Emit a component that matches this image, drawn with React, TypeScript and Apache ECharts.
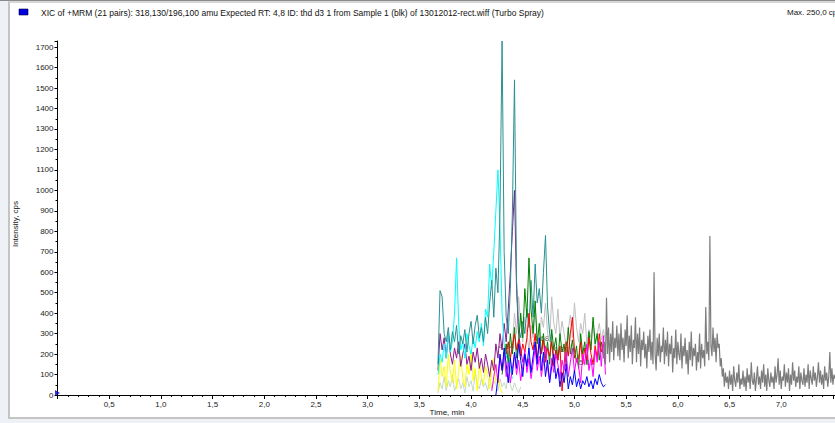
import React, { useEffect, useRef } from 'react';
import * as echarts from 'echarts';

const FONT = '"Liberation Sans", Arial, sans-serif';

const titleText =
  'XIC of +MRM (21 pairs): 318,130/196,100 amu Expected RT: 4,8 ID: thd d3 1 from Sample 1 (blk) of 13012012-rect.wiff (Turbo Spray)';
const maxText = 'Max. 250,0 cps';
const xAxisTitle = 'Time, min';
const yAxisTitle = 'Intensity, cps';

const X_MIN = 0;
const X_MAX = 7.52;
const X_INTERVAL = 0.5;
const Y_MIN = 0;
const Y_MAX = 1730;
const Y_INTERVAL = 100;

const STEP = 0.02;
const GRAY_STEP = 0.01;

const paleStart = 3.68;
const paleValues = [10, 60, 30, 90, 20, 70, 40, 100, 20, 50, 80, 30, 60, 10, 90, 40, 70, 20, 110, 50, 30, 80, 40, 60, 20, 90, 30, 70, 50, 20, 80, 40, 60, 30, 100, 50, 20, 60, 30, 10, 40];

const yellowStart = 3.68;
const yellowValues = [20, 180, 90, 140, 40, 200, 110, 60, 170, 30, 120, 190, 80, 40, 150, 100, 210, 70, 130, 20, 160, 90, 50, 140, 100, 30, 120, 180, 60, 100, 40, 10];

const lightGrayStart = 4.4;
const lightGrayValues = [250, 400, 300, 480, 350, 260, 380, 300, 220, 340, 280, 420, 300, 250, 380, 330, 450, 300, 260, 480, 350, 300, 420, 280, 360, 300, 240, 320, 390, 280, 450, 330, 260, 350, 300, 400, 250, 320, 280, 360, 240, 300, 350, 270, 320, 260];

const purpleStart = 3.68;
const purpleValues = [120, 300, 220, 280, 180, 300, 200, 150, 230, 180, 260, 140, 200, 250, 150, 190, 120, 210, 160, 230, 130, 180, 110, 200, 150, 90, 170, 120, 250, 180, 300, 220, 350, 260, 420, 600, 800, 1000, 520, 300, 220, 160, 200, 140];

const cyanStart = 3.68;
const cyanValues = [100, 200, 160, 250, 180, 300, 210, 260, 400, 670, 350, 220, 260, 180, 300, 240, 200, 280, 230, 310, 260, 350, 240, 420, 380, 640, 520, 700, 900, 1100, 820, 400, 250, 180, 220, 120, 80];

const tealStart = 3.68;
const tealValues = [150, 510, 480, 300, 260, 330, 220, 310, 260, 340, 200, 290, 250, 320, 210, 300, 360, 250, 340, 390, 280, 330, 260, 380, 300, 450, 560, 380, 620, 500, 900, 1730, 700, 380, 300, 520, 900, 1540, 560, 330, 280, 360, 300, 420, 330, 560, 380, 640, 450, 520, 400, 600, 780, 430, 300, 250, 200];

const greenStart = 4.3;
const greenValues = [100, 180, 250, 150, 300, 200, 330, 180, 260, 400, 280, 520, 380, 670, 420, 300, 460, 250, 350, 200, 300, 180, 260, 150, 320, 220, 280, 170, 300, 210, 250, 140, 330, 200, 270, 180, 240, 130, 300, 200, 260, 150, 310, 220, 380, 250, 300, 170, 260, 200, 150];

const redStart = 4.34;
const redValues = [200, 260, 180, 240, 300, 220, 270, 190, 250, 210, 280, 400, 260, 220, 300, 180, 250, 200, 270, 160, 230, 190, 260, 140, 220, 170, 240, 20, 150, 260, 190, 300, 380, 220, 160, 180, 260, 150, 230, 170, 280, 200, 150, 240, 180, 300, 210, 250, 190];

const magentaStart = 4.2;
const magentaValues = [20, 90, 150, 60, 180, 120, 210, 90, 160, 60, 130, 200, 100, 170, 70, 140, 220, 110, 180, 80, 150, 230, 120, 190, 90, 160, 240, 130, 70, 180, 110, 200, 150, 80, 170, 120, 210, 90, 160, 230, 110, 180, 140, 60, 200, 150, 250, 120, 180, 90, 220, 160, 260, 140, 290, 100];

const blueStart = 4.24;
const blueValues = [0, 80, 200, 120, 230, 150, 60, 180, 100, 210, 130, 250, 170, 90, 200, 140, 230, 110, 190, 260, 150, 280, 120, 210, 90, 170, 60, 140, 200, 80, 130, 40, 110, 60, 150, 30, 90, 50, 120, 40, 80, 30, 70, 50, 90, 40, 70, 30, 80, 50, 100, 60, 40, 50];

const grayStart = 5.28;
const grayValues = [
  180, 260, 150, 475, 200, 330, 160, 300, 210, 360, 170, 280, 230, 340, 190,
  300, 170, 350, 220, 280, 160, 320, 240, 390, 180, 290, 210, 340, 150, 270,
  230, 380, 160, 300, 200, 330, 140, 270, 220, 310, 180, 250, 130, 290, 210,
  320, 170, 260, 150, 600, 200, 120, 280, 190, 300, 160, 240, 210, 330, 150,
  270, 190, 310, 140, 250, 200, 290, 110, 230, 180, 320, 150, 260, 200, 170,
  300, 130, 240, 190, 280, 150, 220, 100, 260, 170, 310, 140, 230, 190, 250,
  120, 210, 160, 300, 130, 250, 180, 220, 140, 430, 200, 260, 170, 777, 240,
  190, 330, 210, 280, 160, 300, 230, 250, 140, 180, 90, 130, 40, 110, 60,
  90, 30, 120, 50, 100, 20, 140, 70, 40, 110, 60, 150, 30, 80, 50,
  120, 40, 90, 20, 130, 60, 100, 30, 160, 70, 50, 110, 20, 80, 140,
  50, 90, 30, 120, 60, 150, 40, 100, 20, 130, 70, 40, 110, 60, 90,
  30, 140, 60, 100, 180, 50, 120, 30, 90, 70, 150, 40, 110, 60, 130,
  20, 100, 50, 160, 70, 120, 40, 90, 60, 140, 30, 110, 70, 50, 130,
  40, 100, 60, 150, 30, 120, 80, 50, 140, 70, 110, 40, 90, 160, 60,
  120, 50, 100, 30, 140, 70, 110, 40, 90, 210, 60, 130, 50, 100, 80,
];

const peakTimes = [4.34, 4.68, 4.87, 5.12];
const peakLabelHeights = [235, 278, 220, 157];
const peakLabels = ['4,34', '4,68', '4,87', '5,12'];

function toPairs(start: number, step: number, values: number[]) {
  return values.map((v, i) => [Math.round((start + i * step) * 1000) / 1000, v]);
}

function lineSeries(name: string, color: string, data: number[][], width = 1) {
  return {
    name,
    type: 'line',
    data,
    showSymbol: false,
    symbol: 'none',
    silent: true,
    lineStyle: { color, width },
    emphasis: { disabled: true },
  };
}

export default function App() {
  const ref = useRef<HTMLDivElement>(null);

  useEffect(() => {
    if (!ref.current) return;
    const chart = echarts.init(ref.current, undefined, { renderer: 'svg' });
    const fmt = (v: number) => v.toFixed(1).replace('.', ',');
    const option: any = {
      animation: false,
      textStyle: { fontFamily: FONT },
      grid: { left: 57.5, right: 0, top: 41, bottom: 28, containLabel: false, outerBoundsMode: 'none' },
      xAxis: {
        type: 'value',
        min: X_MIN,
        max: X_MAX,
        interval: X_INTERVAL,
        axisLine: { show: true, lineStyle: { color: '#000', width: 1 } },
        axisTick: { show: true, length: 4, lineStyle: { color: '#000' } },
        minorTick: { show: true, splitNumber: 5, length: 2, lineStyle: { color: '#000' } },
        axisLabel: {
          fontSize: 8,
          color: '#222',
          margin: 5,
          fontFamily: FONT,
          formatter: (v: number) => (v === 0 || v > 7.2 ? '' : fmt(v)),
        },
        splitLine: { show: false },
      },
      yAxis: {
        type: 'value',
        min: Y_MIN,
        max: Y_MAX,
        interval: Y_INTERVAL,
        axisLine: { show: true, lineStyle: { color: '#000', width: 1 } },
        axisTick: { show: true, length: 3, lineStyle: { color: '#000' } },
        minorTick: { show: true, splitNumber: 2, length: 2, lineStyle: { color: '#000' } },
        axisLabel: {
          fontSize: 8,
          color: '#222',
          margin: 4,
          fontFamily: FONT,
          showMaxLabel: false,
          formatter: (v: number) => (v > 1700 ? '' : String(v)),
        },
        splitLine: { show: false },
      },
      graphic: [
        { type: 'rect', shape: { x: 19, y: 9, width: 9, height: 6 }, style: { fill: '#0000e0', stroke: '#000040', lineWidth: 0.6 } },
        { type: 'text', x: 41, y: 12.5, style: { text: titleText, fontSize: 8.5, fontFamily: FONT, fill: '#111', textVerticalAlign: 'middle' } },
        { type: 'text', x: 787, y: 12.5, style: { text: maxText, fontSize: 8, fontFamily: FONT, fill: '#111', textVerticalAlign: 'middle' } },
        { type: 'text', x: 447, y: 412.5, style: { text: xAxisTitle, fontSize: 8, fontFamily: FONT, fill: '#111', textAlign: 'center', textVerticalAlign: 'middle' } },
        { type: 'text', x: 15, y: 224, rotation: Math.PI / 2, style: { text: yAxisTitle, fontSize: 8, fontFamily: FONT, fill: '#111', textAlign: 'center', textVerticalAlign: 'middle' } },
      ],
      series: [
        lineSeries('pale', '#c6d9c6', toPairs(paleStart, STEP, paleValues)),
        lineSeries('yellow', '#ffff00', toPairs(yellowStart, STEP, yellowValues)),
        lineSeries('lightgray', '#c0c0c0', toPairs(lightGrayStart, STEP, lightGrayValues)),
        lineSeries('purple', '#8b1a8b', toPairs(purpleStart, STEP, purpleValues)),
        lineSeries('cyan', '#00ffff', toPairs(cyanStart, STEP, cyanValues)),
        lineSeries('teal', '#2a9090', toPairs(tealStart, STEP, tealValues)),
        lineSeries('green', '#008000', toPairs(greenStart, STEP, greenValues)),
        lineSeries('red', '#ff0000', toPairs(redStart, STEP, redValues)),
        lineSeries('magenta', '#ff00ff', toPairs(magentaStart, STEP, magentaValues)),
        lineSeries('blue', '#0000ff', toPairs(blueStart, STEP, blueValues)),
        lineSeries('gray', '#7d7d7d', toPairs(grayStart, GRAY_STEP, grayValues), 1.2),
        {
          type: 'scatter',
          silent: true,
          symbolSize: 1,
          itemStyle: { color: 'rgba(0,0,0,0)' },
          data: peakTimes.map((t, i) => [t, peakLabelHeights[i], peakLabels[i]]),
          label: {
            show: true,
            position: 'inside',
            fontSize: 8,
            fontFamily: FONT,
            color: '#333',
            formatter: (p: any) => p.value[2],
          },
        },
        {
          type: 'scatter',
          silent: true,
          symbol: 'triangle',
          symbolRotate: -90,
          symbolSize: [6, 5],
          symbolOffset: [0, -2],
          itemStyle: { color: '#0000cc' },
          data: [[0, 0]],
        },
      ],
    };
    chart.setOption(option);
    return () => chart.dispose();
  }, []);

  return (
    <div style={{ position: 'fixed', left: 0, top: 0, width: 835, height: 423, overflow: 'hidden', background: '#eef1f5' }}>
      <div style={{ position: 'absolute', left: 0, top: 0, width: 835, height: 1, background: '#8a8a8a' }} />
      <div
        style={{
          position: 'absolute',
          left: 8,
          top: 1,
          width: 840,
          height: 414,
          background: '#fff',
          borderTop: '2px solid #d6d6d6',
          borderLeft: '2px solid #c4c4c4',
          borderBottom: '2px solid #c4c4c4',
        }}
      />
      <div ref={ref} style={{ position: 'absolute', left: 0, top: 0, width: 835, height: 423 }} />
    </div>
  );
}
